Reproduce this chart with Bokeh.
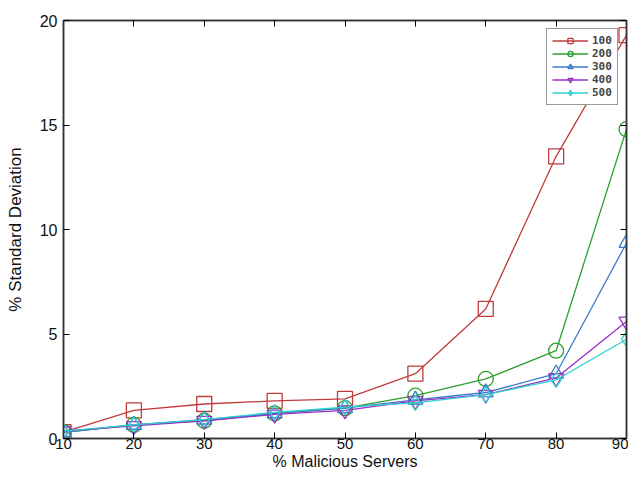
from bokeh.plotting import figure
from bokeh.models import LinearAxis, Range1d, Legend, LegendItem, FixedTicker
from bokeh.embed import file_html
from bokeh.resources import INLINE

x = [10, 20, 30, 40, 50, 60, 70, 80, 90]
s100 = [0.3, 1.35, 1.65, 1.8, 1.9, 3.1, 6.2, 13.5, 19.3]
s200 = [0.3, 0.65, 0.85, 1.2, 1.45, 2.05, 2.85, 4.2, 14.8]
s300 = [0.3, 0.65, 0.9, 1.2, 1.45, 1.85, 2.2, 3.1, 9.35]
s400 = [0.35, 0.6, 0.85, 1.15, 1.35, 1.8, 2.1, 2.9, 5.6]
s500 = [0.35, 0.65, 0.9, 1.25, 1.5, 1.7, 2.1, 2.8, 4.75]
labels = ["100", "200", "300", "400", "500"]
series = [s100, s200, s300, s400, s500]
colors = ["#c23b3b", "#2ca02c", "#3a7bc8", "#9b30c8", "#2fd0d0"]
markers = ["square", "circle", "triangle", "inverted_triangle", "diamond"]
xticks = [10, 20, 30, 40, 50, 60, 70, 80, 90]
yticks = [0, 5, 10, 15, 20]

p = figure(width=628, height=472, output_backend="svg", toolbar_location=None,
           x_range=Range1d(10, 90), y_range=Range1d(0, 20),
           min_border_top=20, min_border_right=2, min_border_left=63, min_border_bottom=28)
p.background_fill_color = "white"
p.border_fill_color = "white"
p.outline_line_color = "#333333"
p.outline_line_width = 1.5
p.xgrid.visible = False
p.ygrid.visible = False

font = "Liberation Sans"
for ax in (p.xaxis[0], p.yaxis[0]):
    ax.major_tick_in = 6
    ax.major_tick_out = 0
    ax.minor_tick_in = 0
    ax.minor_tick_out = 0
    ax.axis_line_color = "#333333"
    ax.axis_line_width = 1.5
    ax.major_label_text_font = font
    ax.major_label_text_font_size = "16px"
    ax.major_label_text_color = "#111111"
    ax.axis_label_text_font = font
    ax.axis_label_text_font_size = "17px"
    ax.axis_label_text_font_style = "normal"
    ax.axis_label_text_color = "#111111"
p.xaxis.major_label_text_font_size = "15px"
p.xaxis.axis_label_text_font_size = "16px"
p.xaxis.ticker = FixedTicker(ticks=xticks)
p.yaxis.ticker = FixedTicker(ticks=yticks)
p.xaxis.axis_label = "% Malicious Servers"
p.yaxis.axis_label = "% Standard Deviation"
p.xaxis.major_label_standoff = 0
p.xaxis.axis_label_standoff = 1
p.yaxis.major_label_standoff = 6
p.yaxis.axis_label_standoff = 12

for loc, tk in (("above", xticks), ("right", yticks)):
    a = LinearAxis(ticker=FixedTicker(ticks=tk),
                   major_label_overrides={t: "" for t in tk},
                   major_tick_in=6, major_tick_out=0, minor_tick_in=0, minor_tick_out=0,
                   axis_line_color="#333333", axis_line_width=1.5, major_label_standoff=0)
    p.add_layout(a, loc)

items = []
for lab, ys, c, m in zip(labels, series, colors, markers):
    ln = p.line(x, ys, line_color=c, line_width=1.3)
    sc = p.scatter(x, ys, marker=m, size=15, fill_color=None, line_color=c, line_width=1.3)
    items.append(LegendItem(label=lab, renderers=[ln, sc]))

legend = Legend(items=items, location="top_right",
                label_text_font="DejaVu Sans Mono", label_text_font_style="bold",
                label_text_font_size="11px", label_height=12, glyph_height=13, glyph_width=36,
                spacing=0, padding=5, margin=8,
                border_line_color="#333333", border_line_width=1.2,
                background_fill_alpha=1.0, label_standoff=4)
p.add_layout(legend)

open("out.html", "w").write(file_html(p, INLINE))
